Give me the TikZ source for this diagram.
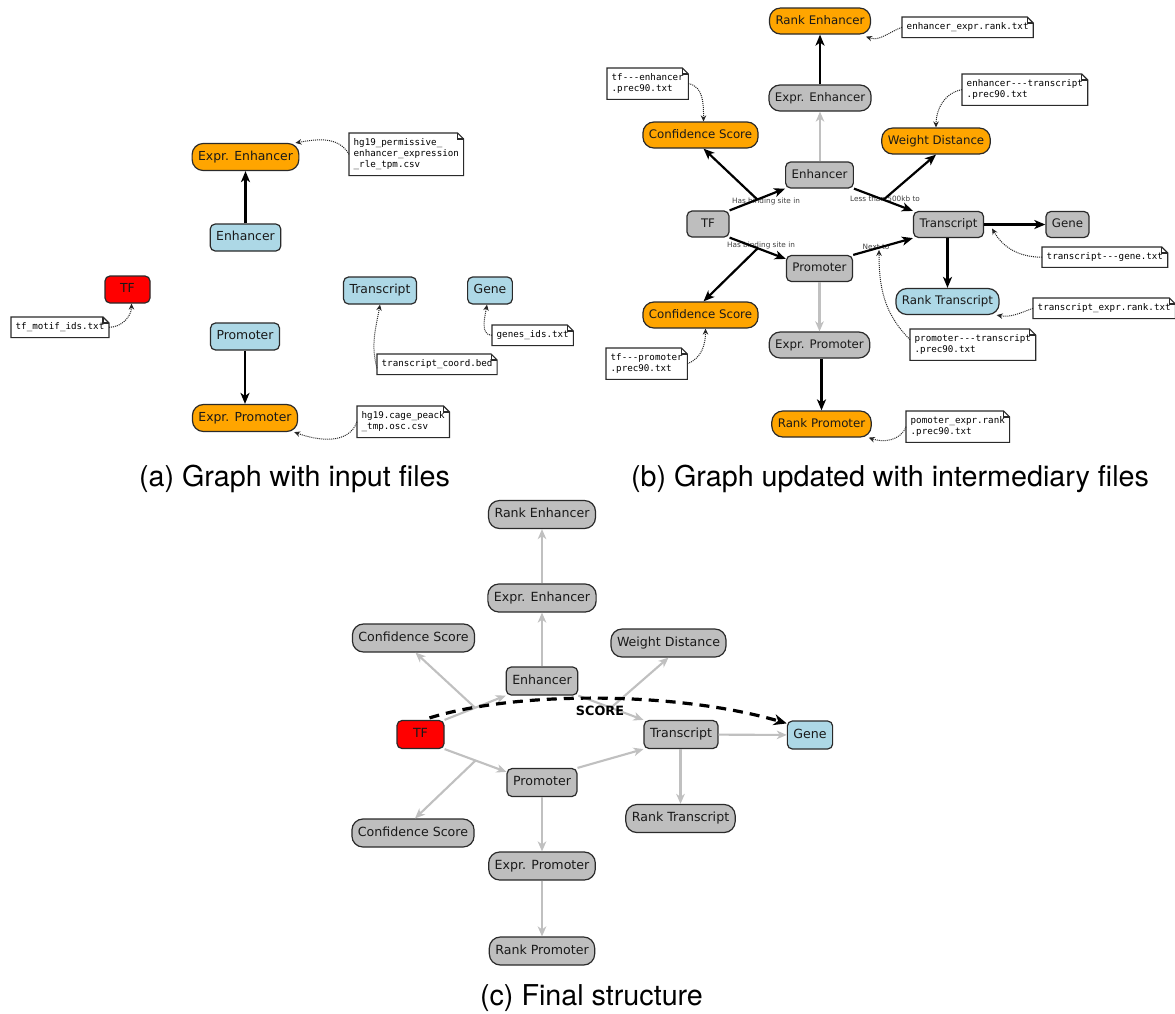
\documentclass[tikz,border=0pt]{standalone}
\usepackage{fontspec}
\setmainfont{DejaVu Sans}
\setmonofont{DejaVu Sans Mono}
\newfontfamily\capfont{TeX Gyre Heros}
\usetikzlibrary{arrows.meta}
\definecolor{orng}{HTML}{FFA500}
\definecolor{lblue}{HTML}{ADD8E6}
\definecolor{gry}{HTML}{BEBEBE}
\definecolor{edgegray}{HTML}{C0C0C0}
\definecolor{bord}{HTML}{2A2A2A}
\newcommand\filenote[3]{%
  \node[note,anchor=north west] (#1) at #2 {#3};
  \draw[notefr] (#1.north west) -- ([xshift=-6pt]#1.north east) -- ([yshift=-6pt]#1.north east) -- (#1.south east) -- (#1.south west) -- cycle;
  \draw[notefr] ([xshift=-6pt]#1.north east) |- ([yshift=-6pt]#1.north east);
}
\begin{document}
\begin{tikzpicture}[x=1pt,y=-1pt,
  nd/.style={draw=bord, line width=1.2pt, inner xsep=6pt, inner ysep=0pt, text height=9pt, text depth=2.6pt, text=black!90},
  sm/.style={nd, rounded corners=5pt},
  lg/.style={nd, rounded corners=11pt},
  fa/.style={font=\fontsize{12.4}{14}\selectfont, minimum height=27pt},
  fb/.style={font=\fontsize{11.8}{14}\selectfont, minimum height=26pt},
  fc/.style={font=\fontsize{12.6}{14}\selectfont, minimum height=28pt},
  note/.style={fill=white, inner xsep=4.5pt, inner ysep=5.5pt, align=left, font=\ttfamily\fontsize{9.2}{11}\selectfont},
  notefr/.style={draw=bord, line width=1.1pt},
  elab/.style={font=\fontsize{7.3}{9}\selectfont, text=black!75, inner sep=0pt},
  blk/.style={line width=2.2pt, -{Stealth[length=11pt,width=9pt,inset=3pt]}},
  lgr/.style={draw=edgegray, line width=2.1pt, -{Stealth[length=10pt,width=8.5pt,inset=3pt]}},
  dotar/.style={densely dotted, draw=black!85, line width=1pt, -{Stealth[length=6pt,width=5.5pt]}},
  dashy/.style={line width=3.2pt, dash pattern=on 10pt off 7pt, -{Stealth[length=13pt,width=11pt,inset=4pt]}},
  captxt/.style={font=\capfont\fontsize{28.7}{32}\selectfont, anchor=base, inner sep=0pt}
]
\fill[white] (0,0) rectangle (1175,1013);
\useasboundingbox (0,0) rectangle (1175,1013);

% ================= (a) =================
\node[lg,fa,fill=orng] (xea) at (245.5,157) {Expr. Enhancer};
\node[sm,fa,fill=lblue] (ena) at (245.5,237.5) {Enhancer};
\node[sm,fa,fill=red,minimum width=45pt] (tfa) at (127.5,289.5) {TF};
\node[sm,fa,fill=lblue] (tra) at (380,290.5) {Transcript};
\node[sm,fa,fill=lblue] (gna) at (490,290.5) {Gene};
\node[sm,fa,fill=lblue] (pra) at (245,336.5) {Promoter};
\node[lg,fa,fill=orng] (xpa) at (245,418) {Expr. Promoter};

\draw[blk] (ena) -- (xea);
\draw[blk] (pra) -- (xpa);

\filenote{na1}{(349,133)}{hg19\_permissive\_\\enhancer\_expression\\\_rle\_tpm.csv}
\filenote{na2}{(11,317)}{tf\_motif\_ids.txt}
\filenote{na3}{(377,354)}{transcript\_coord.bed}
\filenote{na4}{(492,325)}{genes\_ids.txt}
\filenote{na5}{(357,406)}{hg19.cage\_peack\\\_tmp.osc.csv}

\draw[dotar] (na1.west) to[out=120,in=10] ([xshift=-4pt]xea.north east);
\draw[dotar] (na2.east) to[out=0,in=-90] ([xshift=4pt]tfa.south);
\draw[dotar] ([yshift=-4pt]na3.west) to[out=105,in=-100] (tra.south);
\draw[dotar] (na4.west) to[out=180,in=-100] ([xshift=-3pt]gna.south);
\draw[dotar] (na5.west) to[out=-110,in=-20] ([xshift=-4pt]xpa.south east);

\node[captxt] (capa) at (294.5,486) {(a) Graph with input files};

% ================= (b) =================
\node[lg,fb,fill=orng] (reb) at (820,21) {Rank Enhancer};
\node[lg,fb,fill=gry] (xeb) at (820,98) {Expr. Enhancer};
\node[lg,fb,fill=orng] (csub) at (700.5,135) {Confidence Score};
\node[lg,fb,fill=orng] (wdb) at (936,141) {Weight Distance};
\node[sm,fb,fill=gry] (enb) at (819.5,175) {Enhancer};
\node[sm,fb,fill=gry,minimum width=42pt] (tfb) at (708,224) {TF};
\node[sm,fb,fill=gry] (trb) at (948.5,224.5) {Transcript};
\node[sm,fb,fill=gry] (gnb) at (1067.5,224.5) {Gene};
\node[sm,fb,fill=gry] (prb) at (819.5,268.5) {Promoter};
\node[lg,fb,fill=lblue] (rtb) at (947.5,301.5) {Rank Transcript};
\node[lg,fb,fill=orng] (cslb) at (700.5,315) {Confidence Score};
\node[lg,fb,fill=gry] (xpb) at (819.5,345) {Expr. Promoter};
\node[lg,fb,fill=orng] (rpb) at (821.5,424) {Rank Promoter};

\node[elab] (lb1) at (766,201) {Has binding site in};
\node[elab] (lb2) at (885,199) {Less than 500kb to};
\node[elab] (lb3) at (761,245) {Has binding site in};
\node[elab] (lb4) at (876,247) {Next to};

\draw[blk] (tfb.north east) -- coordinate[pos=0.5] (mb1) (enb.south west);
\draw[blk] (tfb.south east) -- coordinate[pos=0.5] (mb2) ([yshift=-4pt]prb.north west);
\draw[blk] (enb.south east) -- coordinate[pos=0.5] (mb3) (trb.north west);
\draw[blk] (prb.north east) -- (trb.south west);
\draw[blk] (mb1) -- ([xshift=3pt]csub.south);
\draw[blk] (mb2) -- ([xshift=3pt]cslb.north);
\draw[blk] (mb3) -- (wdb.south);
\draw[lgr] (enb.north -| xeb) -- (xeb);
\draw[blk] (xeb) -- (reb);
\draw[lgr] (prb) -- (prb |- xpb.north);
\draw[blk] (xpb.south -| rpb) -- (rpb);
\draw[blk] (trb) -- (gnb);
\draw[blk] (trb.south -| rtb) -- (rtb);

\filenote{nb1}{(902,17)}{enhancer\_expr.rank.txt}
\filenote{nb2}{(607,68)}{tf-{}-{}-enhancer\\.prec90.txt}
\filenote{nb3}{(962,74)}{enhancer-{}-{}-transcript\\.prec90.txt}
\filenote{nb4}{(1042,247)}{transcript-{}-{}-gene.txt}
\filenote{nb5}{(1033,298)}{transcript\_expr.rank.txt}
\filenote{nb6}{(910,329)}{promoter-{}-{}-transcript\\.prec90.txt}
\filenote{nb7}{(606,348)}{tf-{}-{}-promoter\\.prec90.txt}
\filenote{nb8}{(906,411)}{pomoter\_expr.rank\\.prec90.txt}

\draw[dotar] (nb1.west) to[out=200,in=-20] ([xshift=-5pt,yshift=-2pt]reb.south east);
\draw[dotar] (nb2.east) to[out=-10,in=90] ([xshift=3pt]csub.north);
\draw[dotar] (nb3.west) to[out=190,in=90] (wdb.north);
\draw[dotar] (nb4.west) to[out=180,in=-60] ([xshift=8pt,yshift=-4pt]trb.east);
\draw[dotar] (nb5.west) to[out=200,in=-10] ([xshift=-3pt]rtb.south east);
\draw[dotar] ([yshift=5pt]nb6.west) to[out=135,in=-90] ([xshift=3pt]lb4.south);
\draw[dotar] (nb7.east) to[out=20,in=-90] ([xshift=5pt]cslb.south);
\draw[dotar] (nb8.west) to[out=-110,in=-20] ([xshift=-3pt]rpb.south east);

\node[captxt] (capb) at (890,486) {(b) Graph updated with intermediary files};

% ================= (c) =================
\node[lg,fc,fill=gry] (rec) at (542,514.5) {Rank Enhancer};
\node[lg,fc,fill=gry] (xec) at (542,598) {Expr. Enhancer};
\node[lg,fc,fill=gry] (csuc) at (413.5,638) {Confidence Score};
\node[lg,fc,fill=gry] (wdc) at (668.5,643) {Weight Distance};
\node[sm,fc,fill=gry] (enc) at (542,681) {Enhancer};
\node[sm,fc,fill=red,minimum width=47pt] (tfc) at (420.5,734.5) {TF};
\node[sm,fc,fill=gry] (trc) at (681,734.5) {Transcript};
\node[sm,fc,fill=lblue] (gnc) at (810,735) {Gene};
\node[sm,fc,fill=gry] (prc) at (542,782.5) {Promoter};
\node[lg,fc,fill=gry] (cslc) at (413,833) {Confidence Score};
\node[lg,fc,fill=gry] (rtc) at (680.5,818.5) {Rank Transcript};
\node[lg,fc,fill=gry] (xpc) at (542,866) {Expr. Promoter};
\node[lg,fc,fill=gry] (rpc) at (542,951) {Rank Promoter};

\draw[lgr] (tfc.north east) -- coordinate[pos=0.5] (mc1) (enc.south west);
\draw[lgr] (tfc.south east) -- coordinate[pos=0.5] (mc2) ([yshift=-4pt]prc.north west);
\draw[lgr] (enc.south east) -- coordinate[pos=0.5] (mc3) (trc.north west);
\draw[lgr] (prc.north east) -- (trc.south west);
\draw[lgr] (mc1) -- ([xshift=2pt]csuc.south);
\draw[lgr] (mc2) -- ([xshift=2pt]cslc.north);
\draw[lgr] (mc3) -- (wdc.south);
\draw[lgr] (enc) -- (xec);
\draw[lgr] (xec) -- (rec);
\draw[lgr] (prc) -- (xpc);
\draw[lgr] (xpc) -- (rpc);
\draw[lgr] (trc) -- (gnc);
\draw[lgr] (trc.south -| rtc) -- (rtc);

\node[font=\bfseries\fontsize{12.8}{14}\selectfont, inner sep=0pt] (score) at (600,711) {SCORE};
\draw[dashy] ([xshift=9pt,yshift=2pt]tfc.north) .. controls (520,690) and (680,692) .. ([yshift=-3pt]gnc.north west);

\node[captxt] (capc) at (591.5,1005) {(c) Final structure};
\end{tikzpicture}
\end{document}
